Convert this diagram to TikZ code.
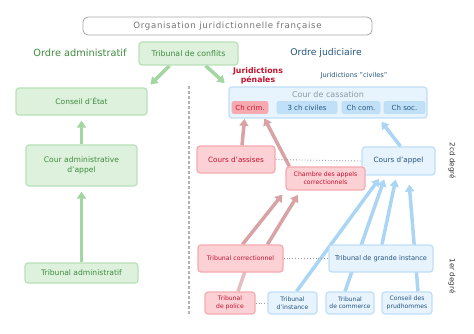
\documentclass[tikz,border=0pt]{standalone}
\usepackage{fontspec}
\setmainfont{DejaVu Sans}
\usetikzlibrary{arrows.meta,backgrounds}
\definecolor{admtext}{HTML}{3E8A3E}
\definecolor{admfill}{HTML}{DDF1DD}
\definecolor{admline}{HTML}{B9E1B9}
\definecolor{admarrow}{HTML}{A3D6A3}
\definecolor{pentext}{HTML}{C4122F}
\definecolor{penfill}{HTML}{FBD1D5}
\definecolor{penline}{HTML}{F4AAB1}
\definecolor{penarrow}{HTML}{D9A2A5}
\definecolor{civtext}{HTML}{24557F}
\definecolor{civfill}{HTML}{E7F3FD}
\definecolor{civline}{HTML}{BEDEF7}
\definecolor{civarrow}{HTML}{ABD5F5}
\definecolor{subblue}{HTML}{BFE0F7}
\definecolor{subred}{HTML}{F6A9AF}
\tikzset{
  fsz/.style 2 args={font=\fontsize{#1}{#2}\selectfont},
  box/.style={rounded corners=3pt, line width=1.2pt, align=center, inner sep=1pt},
  greenbox/.style={box, fill=admfill, draw=admline, text=admtext},
  redbox/.style={box, fill=penfill, draw=penline, text=pentext},
  bluebox/.style={box, fill=civfill, draw=civline, text=civtext},
  subbox/.style={rounded corners=2pt, line width=0.8pt, inner sep=0.5pt, minimum height=12pt, fsz={7}{8}},
  flow/.style={line width=3.5pt, -{Triangle[width=9pt,length=7pt]}, shorten >=5pt},
  greenflow/.style={flow, draw=admarrow},
  redflow/.style={flow, draw=penarrow},
  blueflow/.style={flow, draw=civarrow},
  dotline/.style={draw=gray!80, line width=0.9pt, dotted}
}
\begin{document}
\begin{tikzpicture}[x=1pt,y=-1pt]
  \useasboundingbox (0,0) rectangle (474,334);
  \node[draw=gray!70, line width=0.8pt, rounded corners=5pt, minimum width=289pt, minimum height=18pt, text=gray!90!black, fsz={8.6}{10}] (title) at (227.5,26) {\addfontfeature{LetterSpace=8}Organisation juridictionnelle française};
  \node[text=admtext, fsz={9.8}{11}] (admorder) at (80,53) {Ordre administratif};
  \node[text=civtext, fsz={9.3}{11}] (judorder) at (326,53) {Ordre judiciaire};
  \node[greenbox, minimum width=99pt, minimum height=23pt, fsz={7.8}{9}] (conflits) at (188.5,53.5) {Tribunal de conflits};
  \node[text=pentext, font=\fontsize{7.8}{8.4}\selectfont\bfseries, align=center, inner sep=0pt] (penales) at (258,76) {Juridictions\\pénales};
  \node[text=civtext, fsz={6.7}{8}] (civiles) at (354,76) {Juridictions "civiles"};
  \node[greenbox, minimum width=131pt, minimum height=27pt, fsz={7.5}{9}] (conseil) at (81.5,101.5) {Conseil d'État};
  \node[greenbox, minimum width=111pt, minimum height=41pt, fsz={7.6}{10}] (couradm) at (81.5,165.5) {Cour administrative\\d'appel};
  \node[greenbox, minimum width=113pt, minimum height=20pt, fsz={7.6}{9}] (tribadm) at (81.5,273) {Tribunal administratif};
  \node[bluebox, minimum width=198pt, minimum height=31pt] (cassation) at (328,102.5) {};
  \node[text=gray!60!civtext!70, fsz={8}{9}] (cassname) at (328,95) {Cour de cassation};
  \node[subbox, fill=subred, draw=penline, text=pentext, minimum width=36pt] (chcrim) at (250,107.5) {Ch crim.};
  \node[subbox, fill=subblue, draw=civline, text=civtext, minimum width=60pt] (chciv) at (307,107.5) {3 ch civiles};
  \node[subbox, fill=subblue, draw=civline, text=civtext, minimum width=38pt] (chcom) at (361,107.5) {Ch com.};
  \node[subbox, fill=subblue, draw=civline, text=civtext, minimum width=41pt] (chsoc) at (404.5,107.5) {Ch soc.};
  \node[redbox, minimum width=78pt, minimum height=27pt, fsz={7.2}{8}] (assises) at (236,159.5) {Cours d'assises};
  \node[bluebox, minimum width=73pt, minimum height=28pt, fsz={7.2}{8}] (appel) at (398.5,161) {Cours d'appel};
  \node[redbox, minimum width=79pt, minimum height=23pt, fsz={6.2}{7.8}] (chambre) at (325.5,178.5) {Chambre des appels\\correctionnels};
  \node[redbox, minimum width=85pt, minimum height=27pt, fsz={6.2}{7}] (correc) at (240.5,258.5) {Tribunal correctionnel};
  \node[bluebox, minimum width=104pt, minimum height=27pt, fsz={6.6}{7}] (tgi) at (381,258.5) {Tribunal de grande instance};
  \node[redbox, minimum width=50pt, minimum height=22pt, fsz={6.1}{7.5}] (police) at (230,303) {Tribunal\\de police};
  \node[bluebox, minimum width=49pt, minimum height=22pt, fsz={6.1}{7.5}] (instance) at (292.5,303) {Tribunal\\d'instance};
  \node[bluebox, minimum width=48pt, minimum height=22pt, fsz={6}{7.5}] (commerce) at (350,303) {Tribunal\\de commerce};
  \node[bluebox, minimum width=50pt, minimum height=22pt, fsz={6.1}{7.5}] (prud) at (407,303) {Conseil des\\prudhommes};
  \node[text=gray!40!black, fsz={7.2}{8}, rotate=-90] (second) at (452,161) {2cd degré};
  \node[text=gray!40!black, fsz={7.2}{8}, rotate=-90] (first) at (452,276) {1er degré};
  \begin{scope}[on background layer]
    \draw[gray!60, line width=1.5pt, dash pattern=on 3pt off 2pt] (189,86) -- (189,314);
    \draw[greenflow, shorten >=4pt] ([xshift=-19pt]conflits.south) -- (conseil.north east);
    \draw[greenflow, shorten >=5pt] ([xshift=17pt]conflits.south) -- (cassation.north west);
    \draw[greenflow] (couradm.north) -- (conseil.south);
    \draw[greenflow] (tribadm.north) -- (couradm.south);
    \draw[redflow] ([xshift=6pt]assises.north) -- ([xshift=-5pt]chcrim.south);
    \draw[redflow] ([xshift=4pt]chambre.north west) -- ([xshift=12pt]chcrim.south);
    \draw[redflow] ([xshift=2pt]correc.north) -- ([xshift=-40pt]chambre.south);
    \draw[redflow] ([xshift=27pt]correc.north) -- ([xshift=-25pt]chambre.south);
    \draw[penarrow!70, line width=3.5pt] ([xshift=8pt]police.north) -- ([xshift=9pt]correc.center);
    \draw[blueflow, shorten >=4pt] ([xshift=2pt]appel.north) -- ([xshift=51pt]cassation.south);
    \draw[blueflow, shorten >=4pt] ([xshift=4pt]instance.north) -- ([xshift=-17pt]appel.south);
    \draw[blueflow, shorten >=4pt] ([xshift=-5pt]commerce.north) -- ([xshift=-13pt]appel.south);
    \draw[blueflow, shorten >=4pt] ([xshift=1pt]tgi.north) -- ([xshift=-2pt]appel.south);
    \draw[blueflow, shorten >=9pt] ([xshift=11pt]prud.north) -- ([xshift=10pt]appel.south);
    \draw[dotline] (assises.east) -- (appel.west);
    \draw[dotline] (correc.east) -- (tgi.west);
    \draw[dotline] (police.east) -- (instance.west);
  \end{scope}
\end{tikzpicture}
\end{document}
